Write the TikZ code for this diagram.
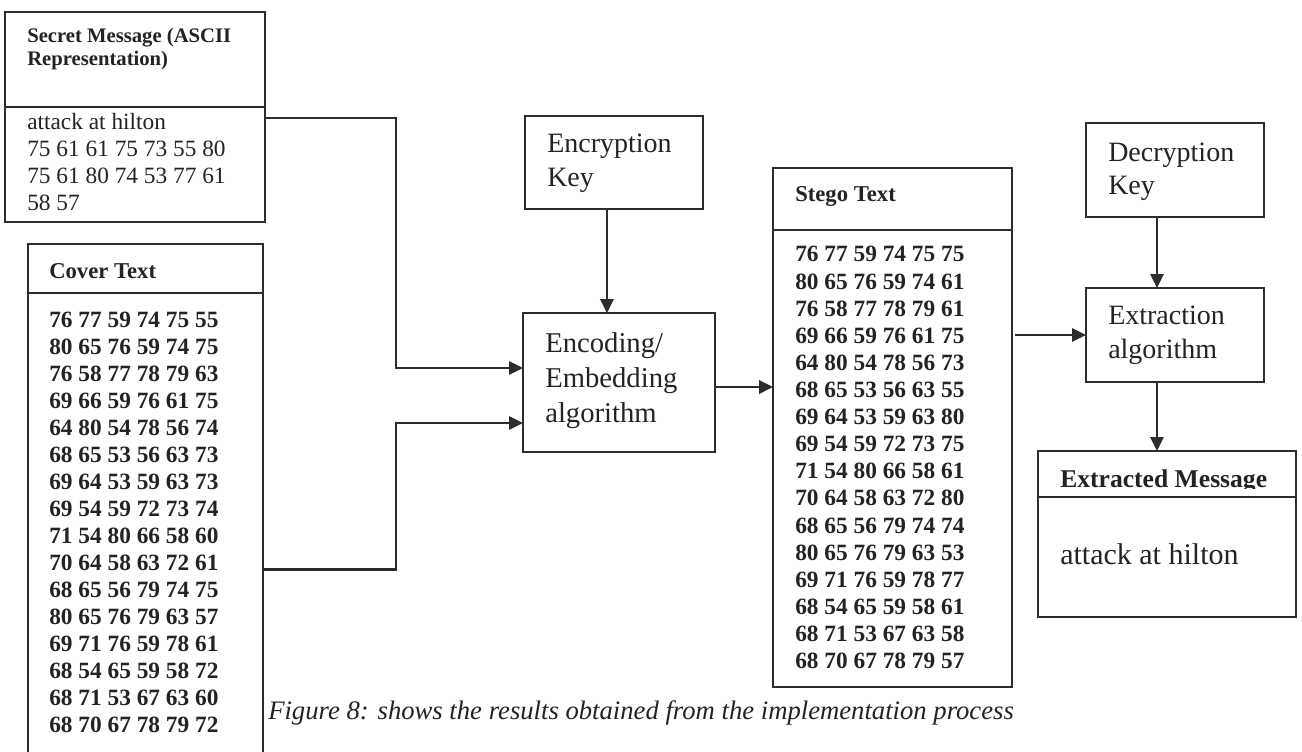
\documentclass[tikz,border=0pt]{standalone}
\usepackage{fontspec}
\setmainfont{Liberation Serif}
\usetikzlibrary{arrows.meta,fit}
\definecolor{linec}{RGB}{45,45,45}
\definecolor{txtc}{RGB}{35,35,35}
\begin{document}
\begin{tikzpicture}[x=0.75pt,y=-0.75pt,
  box/.style={draw=linec, line width=1.6pt, inner sep=0pt, outer sep=0pt},
  arr/.style={draw=linec, line width=1.6pt, -{Triangle[length=10.5pt,width=10pt]}},
  lbl/.style={anchor=base west, inner sep=0pt, text=txtc},
  hdr/.style={lbl, font=\bfseries\fontsize{17}{20}\selectfont},
  hdrs/.style={lbl, font=\bfseries\fontsize{15.5}{18}\selectfont},
  num/.style={lbl, font=\bfseries\fontsize{17.5}{20}\selectfont},
  plain/.style={lbl, font=\fontsize{17.5}{20}\selectfont},
  big/.style={lbl, font=\fontsize{21}{25}\selectfont},
]
\fill[white] (0,0) rectangle (1302,752);
\useasboundingbox (0,0) rectangle (1302,752);

% ---- boxes ----
\node[box, fit={(5,12) (265,107)}] (secH) {};
\node[box, fit={(5,107) (265,222)}] (secB) {};
\node[box, fit={(28,244) (263,293)}] (covH) {};
\node[box, fit={(28,293) (263,770)}] (covB) {};
\node[box, fit={(525,116) (703,209)}] (key) {};
\node[box, fit={(523,313) (715,452)}] (emb) {};
\node[box, fit={(773,168) (1012,230)}] (stH) {};
\node[box, fit={(773,230) (1012,687)}] (stB) {};
\node[box, fit={(1086,123) (1264,217)}] (dec) {};
\node[box, fit={(1086,288) (1264,382)}] (ext) {};
\node[box, fit={(1038,451) (1296,497)}] (exH) {};
\node[box, fit={(1038,497) (1296,617)}] (exB) {};

% ---- secret message ----
\node[hdrs] (secT1) at (27,43) {Secret Message (ASCII};
\node[hdrs] (secT2) at (27,66) {Representation)};
\foreach \t [count=\i] in {attack at hilton, 75 61 61 75 73 55 80, 75 61 80 74 53 77 61, 58 57}
  \node[plain] (sec\i) at (27,{129.5+27*(\i-1)}) {\t};

% ---- cover text ----
\node[hdr] (covT) at (49,278) {Cover Text};
\foreach \t [count=\i] in {76 77 59 74 75 55, 80 65 76 59 74 75, 76 58 77 78 79 63,
  69 66 59 76 61 75, 64 80 54 78 56 74, 68 65 53 56 63 73, 69 64 53 59 63 73,
  69 54 59 72 73 74, 71 54 80 66 58 60, 70 64 58 63 72 61, 68 65 56 79 74 75,
  80 65 76 79 63 57, 69 71 76 59 78 61, 68 54 65 59 58 72, 68 71 53 67 63 60,
  68 70 67 78 79 72}
  \node[num] (cov\i) at (49,{327+27*(\i-1)}) {\t};

% ---- encryption key and embedding ----
\node[big] (keyT1) at (547,153) {Encryption};
\node[big] (keyT2) at (547,186.5) {Key};
\node[big, font=\fontsize{21.5}{26}\selectfont] (embT1) at (545,352) {Encoding/};
\node[big, font=\fontsize{21.5}{26}\selectfont] (embT2) at (545,387) {Embedding};
\node[big, font=\fontsize{21.5}{26}\selectfont] (embT3) at (545,422) {algorithm};

% ---- stego text ----
\node[hdr] (stT) at (795,201.5) {Stego Text};
\foreach \t [count=\i] in {76 77 59 74 75 75, 80 65 76 59 74 61, 76 58 77 78 79 61,
  69 66 59 76 61 75, 64 80 54 78 56 73, 68 65 53 56 63 55, 69 64 53 59 63 80,
  69 54 59 72 73 75, 71 54 80 66 58 61, 70 64 58 63 72 80, 68 65 56 79 74 74,
  80 65 76 79 63 53, 69 71 76 59 78 77, 68 54 65 59 58 61, 68 71 53 67 63 58,
  68 70 67 78 79 57}
  \node[num] (st\i) at (795,{262+27.1*(\i-1)}) {\t};

% ---- decryption and extraction ----
\node[big] (decT1) at (1108,161.5) {Decryption};
\node[big] (decT2) at (1108,195) {Key};
\node[big] (extT1) at (1108,324) {Extraction};
\node[big] (extT2) at (1108,358) {algorithm};
\begin{scope}
  \clip (1038,451) rectangle (1296,488);
  \node[lbl, font=\bfseries\fontsize{19.2}{22}\selectfont] (exT) at (1060,487.5) {Extracted Message};
\end{scope}
\node[lbl, font=\fontsize{22.5}{27}\selectfont] (exMsg) at (1060,564) {attack at hilton};

% ---- caption ----
\node[lbl, font=\itshape\fontsize{20}{24}\selectfont] (cap) at (268,719)
  {Figure 8: shows the results obtained from the implementation process};

% ---- connectors ----
\coordinate (bendA) at (396,368);
\coordinate (bendB) at (396,423);
\draw[arr] ([yshift=34.9pt]secB.east) -| (bendA) -- (bendA -| emb.west);
\draw[arr] ([yshift=-28.5pt]covB.east) -| (bendB) -- (bendB -| emb.west);
\draw[arr] ([xshift=-5.3pt]key.south) -- ([xshift=-5.3pt]key.south |- emb.north);
\draw[arr] ([yshift=-3.4pt]emb.east) -- ([yshift=-3.4pt]emb.east -| stB.west);
\draw[arr] ([xshift=2.2pt]ext.west -| stB.east) -- (ext.west);
\draw[arr] ([xshift=-13.5pt]dec.south) -- ([xshift=-13.5pt]dec.south |- ext.north);
\draw[arr] ([xshift=-13.5pt]ext.south) -- ([xshift=-13.5pt]ext.south |- exH.north);
\end{tikzpicture}
\end{document}
